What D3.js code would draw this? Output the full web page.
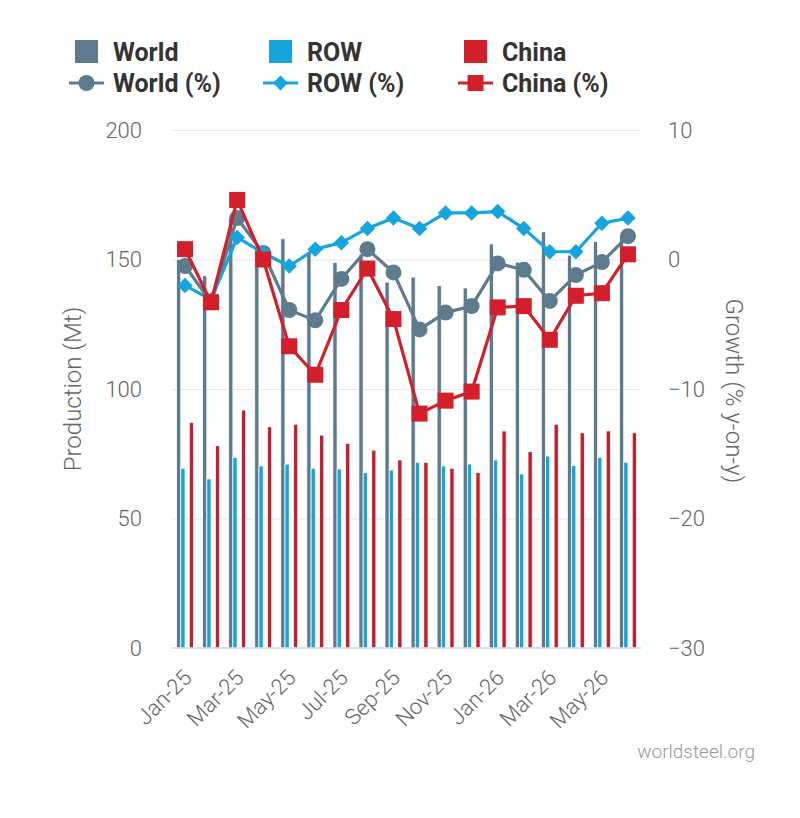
<!DOCTYPE html>
<html>
<head>
  <meta charset="utf-8">
  <title>Crude steel production</title>
  <style>
  body { margin: 0; background: #fff; font-family: Roboto, "Noto Sans", sans-serif; }
  .grid line { stroke: #e6e6e6; stroke-width: 1px; }
  .grid path { display: none; }
  .axis path, .axis line { display: none; }
  .axis text { fill: #666; font-size: 22px; font-weight: 300; font-family: Roboto, sans-serif; }
  .axis-title { fill: #666; font-size: 24px; font-weight: 300; }
  .legend text { fill: #333; font-size: 25px; font-weight: bold; }
  .line { fill: none; stroke-width: 3.2px; stroke-linejoin: round; }
  </style>
</head>
<body>
  <div id="chart"></div>
  <script src="https://cdn.jsdelivr.net/npm/d3@7"></script>
  <script>
  // data
  var months = ["Jan-25","Feb-25","Mar-25","Apr-25","May-25","Jun-25","Jul-25","Aug-25","Sep-25",
                "Oct-25","Nov-25","Dec-25","Jan-26","Feb-26","Mar-26","Apr-26","May-26","Jun-26"];
  var tickLabels = ["Jan-25","Mar-25","May-25","Jul-25","Sep-25","Nov-25","Jan-26","Mar-26","May-26"];

  var worldMt = [150, 143.7, 166, 154.5, 158, 152.5, 148.8, 152, 141.3, 143.2, 139.9, 139, 156, 149, 160.7, 151.7, 156.9, 159];
  var rowMt   = [69.4, 65.3, 73.5, 70.3, 71.0, 69.4, 69.1, 67.7, 68.7, 71.7, 70.3, 71.0, 72.6, 67.2, 74.1, 70.4, 73.5, 71.7];
  var chinaMt = [87.1, 78.1, 91.9, 85.4, 86.4, 82.2, 79.0, 76.4, 72.6, 71.7, 69.4, 67.7, 83.8, 75.8, 86.4, 83.1, 83.8, 83.1];

  var worldPct = [-0.5, -3.3, 3.2, 0.5, -3.9, -4.7, -1.5, 0.8, -1.0, -5.4, -4.1, -3.6, -0.3, -0.8, -3.2, -1.2, -0.2, 1.8];
  var rowPct   = [-2.0, -3.1, 1.7, 0.5, -0.5, 0.8, 1.3, 2.4, 3.2, 2.4, 3.6, 3.6, 3.7, 2.4, 0.6, 0.6, 2.8, 3.2];
  var chinaPct = [0.8, -3.3, 4.6, 0.0, -6.7, -8.9, -3.9, -0.7, -4.6, -11.9, -10.9, -10.2, -3.7, -3.6, -6.2, -2.8, -2.6, 0.4];

  var colors = { World: "#5e7b8e", ROW: "#15a4dc", China: "#d21f2b" };
  var barColors = { World: "#5e7b8e", ROW: "#1aa3d6", China: "#c41f30" };

  var width = 800, height = 818;
  var pLeft = 172, pRight = 641, pTop = 130, pBottom = 648;

  var svg = d3.select("#chart").append("svg")
    .attr("width", width)
    .attr("height", height);

  var x0 = d3.scaleBand().domain(months).range([pLeft, pRight]);
  // the columns sit in 4 slots, the third one stays empty
  var x1 = d3.scaleBand().domain(["World", "ROW", "", "China"]).range([0, 17]);
  var yL = d3.scaleLinear().domain([0, 200]).range([pBottom, pTop]);
  var yR = d3.scaleLinear().domain([-30, 10]).range([pBottom, pTop]);

  //grid
  svg.append("g")
    .attr("class", "grid")
    .attr("transform", "translate(" + pLeft + ",0)")
    .call(d3.axisLeft(yL).tickValues([50, 100, 150, 200]).tickSize(-(pRight - pLeft)).tickFormat(""));

  //columns
  var seriesMt = [["World", worldMt], ["ROW", rowMt], ["China", chinaMt]];
  seriesMt.forEach(function(s) {
    svg.append("g").selectAll("rect")
      .data(s[1])
      .enter().append("rect")
      .attr("x", function(d, i) { return x0(months[i]) + (x0.bandwidth() - 17) / 2 + x1(s[0]); })
      .attr("y", function(d) { return yL(d); })
      .attr("width", x1.bandwidth())
      .attr("height", function(d) { return yL(0) - yL(d); })
      .attr("fill", barColors[s[0]])
      .attr("stroke", "#fff")
      .attr("stroke-width", 0.8);
  });

  //baseline
  svg.append("line")
    .attr("x1", pLeft).attr("x2", pRight)
    .attr("y1", yL(0)).attr("y2", yL(0))
    .attr("stroke", "#ccd6eb").attr("stroke-width", 1.5);

  var cx = function(d, i) { return x0(months[i]) + x0.bandwidth() / 2; };

  function drawLine(values, color) {
    var line = d3.line().x(cx).y(function(d) { return yR(d); });
    svg.append("path").datum(values).attr("class", "line").attr("stroke", color).attr("d", line);
  }

  // growth lines and markers
  drawLine(worldPct, colors.World);
  svg.append("g").selectAll("circle").data(worldPct).enter().append("circle")
    .attr("cx", cx).attr("cy", function(d) { return yR(d); })
    .attr("r", 8).attr("fill", colors.World);

  drawLine(rowPct, colors.ROW);
  svg.append("g").selectAll("path").data(rowPct).enter().append("path")
    .attr("d", d3.symbol().type(d3.symbolSquare).size(120))
    .attr("transform", function(d, i) { return "translate(" + cx(d, i) + "," + yR(d) + ") rotate(45)"; })
    .attr("fill", colors.ROW);

  drawLine(chinaPct, colors.China);
  svg.append("g").selectAll("rect").data(chinaPct).enter().append("rect")
    .attr("x", function(d, i) { return cx(d, i) - 8; })
    .attr("y", function(d) { return yR(d) - 8; })
    .attr("width", 16).attr("height", 16)
    .attr("fill", colors.China);

  //left axis
  svg.append("g")
    .attr("class", "axis")
    .attr("transform", "translate(" + (pLeft - 30) + ",0)")
    .call(d3.axisLeft(yL).tickValues([0, 50, 100, 150, 200]).tickSize(0).tickPadding(0));

  //right axis
  svg.append("g")
    .attr("class", "axis")
    .attr("transform", "translate(" + (pRight + 27) + ",0)")
    .call(d3.axisRight(yR).tickValues([-30, -20, -10, 0, 10]).tickSize(0).tickPadding(0));

  //x axis labels
  svg.append("g")
    .attr("class", "axis")
    .attr("transform", "translate(0," + pBottom + ")")
    .call(d3.axisBottom(x0).tickValues(tickLabels).tickSize(0).tickPadding(0))
    .selectAll("text")
    .attr("text-anchor", "end")
    .attr("y", 0)
    .attr("dy", 0)
    .attr("transform", "translate(8,31) rotate(-45)");

  //axis titles
  svg.append("text")
    .attr("class", "axis-title")
    .attr("text-anchor", "middle")
    .attr("transform", "translate(81," + ((pTop + pBottom) / 2) + ") rotate(-90)")
    .text("Production (Mt)");

  svg.append("text")
    .attr("class", "axis-title")
    .attr("text-anchor", "middle")
    .attr("transform", "translate(726," + ((pTop + pBottom) / 2 + 2) + ") rotate(90)")
    .text("Growth (% y-on-y)");

  //legend
  var legend = svg.append("g").attr("class", "legend");
  var legendX = [75, 269, 464];
  ["World", "ROW", "China"].forEach(function(name, i) {
    var lx = legendX[i];
    legend.append("rect")
      .attr("x", lx).attr("y", 40).attr("width", 23).attr("height", 23)
      .attr("fill", colors[name]);
    legend.append("text").attr("x", lx + 38).attr("y", 61).text(name);

    legend.append("line")
      .attr("x1", lx - 6).attr("x2", lx + 29).attr("y1", 83).attr("y2", 83)
      .attr("stroke", colors[name]).attr("stroke-width", 3.2);
    legend.append("text").attr("x", lx + 38).attr("y", 92).text(name + " (%)");
  });
  legend.append("circle").attr("cx", legendX[0] + 11.5).attr("cy", 83).attr("r", 8).attr("fill", colors.World);
  legend.append("path")
    .attr("d", d3.symbol().type(d3.symbolSquare).size(110))
    .attr("transform", "translate(" + (legendX[1] + 11.5) + ",83) rotate(45)")
    .attr("fill", colors.ROW);
  legend.append("rect").attr("x", legendX[2] + 3.5).attr("y", 75).attr("width", 16).attr("height", 16).attr("fill", colors.China);

  //credit
  svg.append("text")
    .attr("x", 755).attr("y", 758)
    .attr("text-anchor", "end")
    .attr("fill", "#999")
    .style("font-size", "19px")
    .style("font-weight", 300)
    .text("worldsteel.org");
  </script>
</body>
</html>
